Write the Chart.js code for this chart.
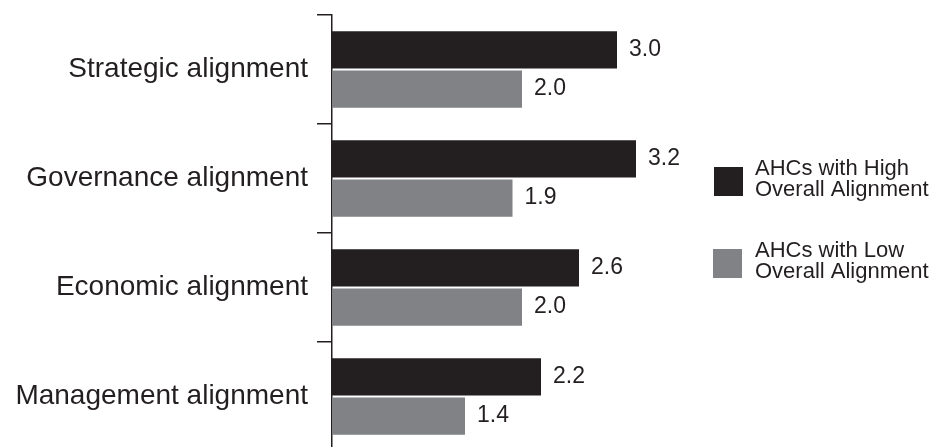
<!DOCTYPE html>
<html>
<head>
<meta charset="utf-8">
<script src="https://cdn.jsdelivr.net/npm/chart.js@4"></script>
<style>
  html, body { margin: 0; padding: 0; background: #fff; overflow: hidden; }
  canvas { display: block; }
</style>
</head>
<body>
<canvas id="myChart" width="935" height="456"></canvas>
<script>
// data
var categories = ["Strategic alignment", "Governance alignment", "Economic alignment", "Management alignment"];
var highAlignment = [3.0, 3.2, 2.6, 2.2];
var lowAlignment = [2.0, 1.9, 2.0, 1.4];
var seriesNames = [
  ["AHCs with High", "Overall Alignment"],
  ["AHCs with Low", "Overall Alignment"]
];

var FONT = "'Liberation Sans', Arial, Helvetica, sans-serif";
var INK = "#231f20";

// value printed just past the end of every bar
var valueLabels = {
  id: "valueLabels",
  afterDatasetsDraw: function (chart) {
    var c = chart.ctx;
    c.save();
    c.font = "23px " + FONT;
    c.fillStyle = INK;
    c.textAlign = "left";
    c.textBaseline = "middle";
    chart.data.datasets.forEach(function (ds, i) {
      chart.getDatasetMeta(i).data.forEach(function (bar, j) {
        c.fillText(ds.data[j].toFixed(1), bar.x + 12, bar.y);
      });
    });
    c.restore();
  }
};

// two-line legend on the right side
var sideLegend = {
  id: "sideLegend",
  afterDraw: function (chart) {
    var c = chart.ctx;
    var boxes = [{ x: 714, y: 167 }, { x: 713, y: 249 }];
    c.save();
    c.font = "22px " + FONT;
    c.textBaseline = "alphabetic";
    chart.data.datasets.forEach(function (ds, i) {
      var b = boxes[i];
      c.fillStyle = ds.backgroundColor;
      c.fillRect(b.x, b.y, 29, 29);
      c.fillStyle = INK;
      ds.label.forEach(function (line, k) {
        c.fillText(line, 755, b.y + 8 + k * 21);
      });
    });
    c.restore();
  }
};

var ctx = document.getElementById("myChart").getContext("2d");

var myChart = new Chart(ctx, {
  type: "bar",
  data: {
    labels: categories,
    datasets: [
      {
        label: seriesNames[0],
        data: highAlignment,
        backgroundColor: "#231f20",
        categoryPercentage: 0.72,
        barPercentage: 0.95,
      },
      {
        label: seriesNames[1],
        data: lowAlignment,
        backgroundColor: "#808285",
        categoryPercentage: 0.72,
        barPercentage: 0.95,
      },
    ],
  },
  options: {
    indexAxis: "y",
    responsive: false,
    animation: false,
    layout: { padding: { top: 15, bottom: 5, left: 0, right: 223 } },
    plugins: {
      legend: { display: false },
      tooltip: { enabled: false },
    },
    scales: {
      x: {
        display: false,
        min: 0,
        max: 4,
      },
      y: {
        afterFit: function (scale) {
          scale.width = 332;
          scale.paddingTop = 0;
          scale.paddingBottom = 0;
        },
        border: { display: true, color: INK, width: 1.5 },
        grid: {
          offset: true,
          drawOnChartArea: false,
          drawTicks: true,
          tickLength: 15,
          color: INK,
          lineWidth: 1.5,
        },
        ticks: {
          padding: 9,
          color: INK,
          font: { family: FONT, size: 28 },
        },
      },
    },
  },
  plugins: [valueLabels, sideLegend],
});
</script>
</body>
</html>
